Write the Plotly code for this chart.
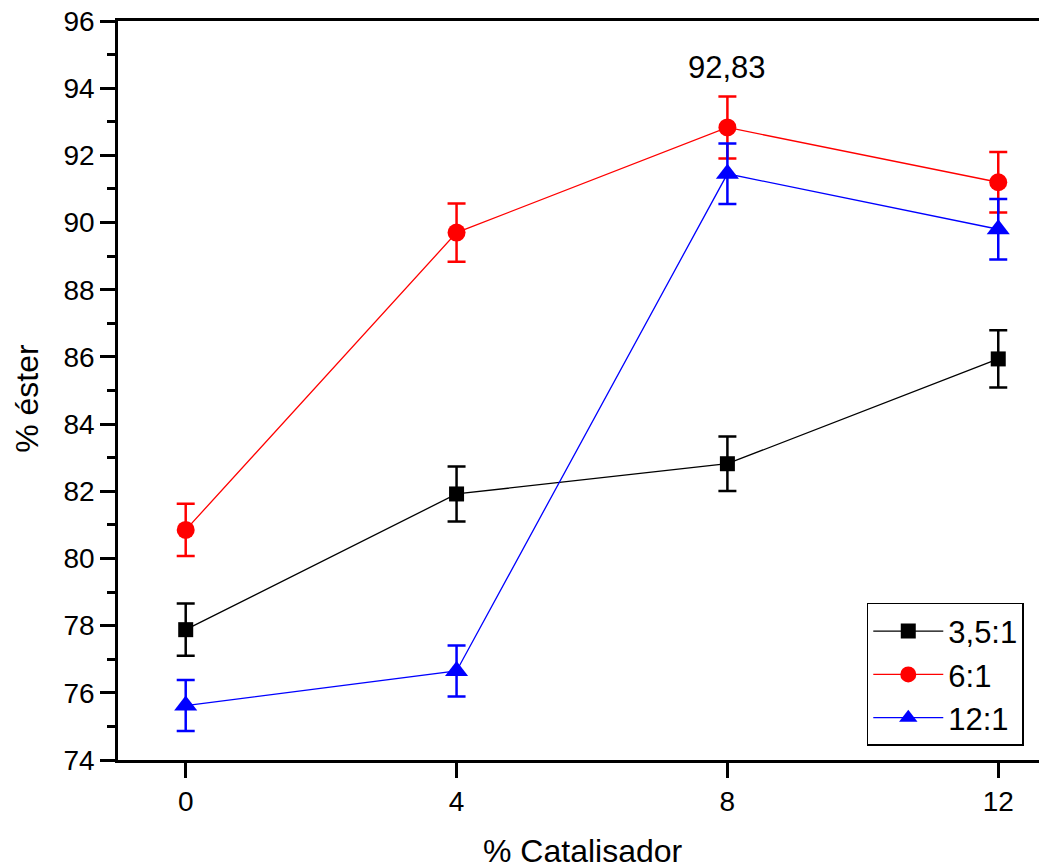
import plotly.graph_objects as go

catalisador = [0, 4, 8, 12]
s35_vals = [77.88, 81.92, 82.82, 85.94]
s35_err = [0.78, 0.82, 0.81, 0.85]
s6_vals = [80.85, 89.70, 92.83, 91.20]
s6_err = [0.78, 0.87, 0.92, 0.90]
s12_vals = [75.62, 76.65, 91.45, 89.80]
s12_err = [0.76, 0.76, 0.90, 0.90]
series_names = ["3,5:1", "6:1", "12:1"]

FONT = "Liberation Sans, Arial, sans-serif"

fig = go.Figure()

def add(name, y, e, color, symbol, size):
    fig.add_trace(go.Scatter(
        x=catalisador, y=y, name=name, mode="lines+markers",
        line=dict(color=color, width=1.3),
        marker=dict(color=color, symbol=symbol, size=size),
        error_y=dict(type="data", array=e, visible=True, color=color,
                     thickness=2.5, width=9),
    ))

add(series_names[0], s35_vals, s35_err, "black", "square", 15)
add(series_names[1], s6_vals, s6_err, "#ff0000", "circle", 18)
add(series_names[2], s12_vals, s12_err, "#0000ff", "triangle-up", 20)

fig.add_annotation(x=8, y=s6_vals[2], text="92,83", showarrow=False,
                   yshift=60, font=dict(size=31, color="black", family=FONT))

# axis titles as paper annotations for exact placement
fig.add_annotation(xref="paper", yref="paper", x=0.5, y=-0.123, yanchor="middle",
                   text="% Catalisador", showarrow=False,
                   font=dict(size=32, color="black", family=FONT))
fig.add_annotation(xref="paper", x=-0.098, xanchor="center", yref="paper", y=0.49,
                   yanchor="middle", text="% éster", textangle=-90, showarrow=False,
                   font=dict(size=32, color="black", family=FONT))

fig.update_layout(
    width=1039, height=860,
    margin=dict(l=110, r=0, t=13, b=108),
    paper_bgcolor="white", plot_bgcolor="white",
    font=dict(family=FONT, size=28, color="black"),
    showlegend=True,
    legend=dict(x=0.806, y=0.2125, xanchor="left", yanchor="top",
                bordercolor="black", borderwidth=1.5, bgcolor="white",
                font=dict(size=31), itemwidth=70, tracegroupgap=0),
    xaxis=dict(range=[-1, 12.72], tickvals=catalisador, automargin=False,
               showline=True, linecolor="black", linewidth=2.5, mirror=True,
               ticks="outside", ticklen=15, tickwidth=2.5, tickcolor="black",
               showgrid=False, zeroline=False),
    yaxis=dict(range=[74, 96], dtick=2, tick0=74, automargin=False,
               ticklabeloverflow="allow",
               showline=True, linecolor="black", linewidth=2.5, mirror=False,
               ticks="outside", ticklen=15, tickwidth=2.5, tickcolor="black",
               minor=dict(dtick=1, ticks="outside", ticklen=8, tickwidth=2.5, tickcolor="black"),
               showgrid=False, zeroline=False),
)

fig.write_html("out.html")
